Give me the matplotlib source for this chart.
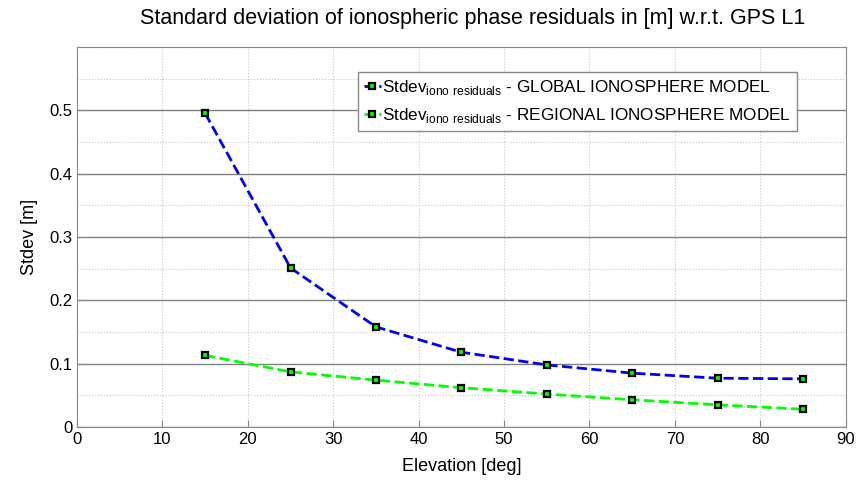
import matplotlib
matplotlib.use("Agg")
import matplotlib.pyplot as plt
from matplotlib.ticker import MultipleLocator

plt.rcParams['font.family'] = ['Liberation Sans', 'DejaVu Sans']
plt.rcParams['mathtext.fontset'] = 'custom'
plt.rcParams['mathtext.rm'] = 'Liberation Sans'

elevation = [15, 25, 35, 45, 55, 65, 75, 85]
global_std = [0.495, 0.251, 0.158, 0.118, 0.098, 0.085, 0.077, 0.076]
regional_std = [0.113, 0.087, 0.074, 0.062, 0.052, 0.043, 0.035, 0.028]
labels = [r'Stdev$_{\mathrm{iono\ residuals}}$ - GLOBAL IONOSPHERE MODEL',
          r'Stdev$_{\mathrm{iono\ residuals}}$ - REGIONAL IONOSPHERE MODEL']

fig = plt.figure(figsize=(8.56, 4.88), dpi=100)
ax = fig.add_axes([0.090, 0.125, 0.898, 0.779])

ax.plot(elevation, global_std, linestyle='--', color='#0000ff', lw=2,
        marker='s', ms=4.5, mfc='#00ff00', mec='black', mew=1.6, label=labels[0], zorder=3)
ax.plot(elevation, regional_std, linestyle='--', color='#00ff00', lw=2,
        marker='s', ms=4.5, mfc='#00ff00', mec='black', mew=1.6, label=labels[1], zorder=3)

ax.set_xlim(0, 90)
ax.set_ylim(0, 0.6)
ax.set_xticks(range(0, 91, 10))
ax.set_yticks([0, 0.1, 0.2, 0.3, 0.4, 0.5])
ax.set_yticklabels(['0', '0.1', '0.2', '0.3', '0.4', '0.5'])
ax.yaxis.set_minor_locator(MultipleLocator(0.05))
ax.tick_params(which='both', direction='in', labelsize=12, length=5, color='#888888')
ax.tick_params(which='minor', length=0)

ax.grid(True, which='major', axis='y', color='#808080', linestyle='-', lw=1, zorder=0)
ax.grid(True, which='minor', axis='y', color='#c8c8c8', linestyle=':', lw=0.8, zorder=0)
ax.grid(True, which='major', axis='x', color='#c8c8c8', linestyle=':', lw=0.8, zorder=0)
for s in ax.spines.values():
    s.set_color('#888888')

ax.set_xlabel('Elevation [deg]', fontsize=13, labelpad=8)
ax.set_ylabel('Stdev [m]', fontsize=13, labelpad=8)
fig.text(0.552, 0.963, 'Standard deviation of ionospheric phase residuals in [m] w.r.t. GPS L1',
         fontsize=15.5, ha='center', va='center')

leg = ax.legend(loc='upper left', bbox_to_anchor=(0.365, 0.935), fontsize=12.3,
                handlelength=1.0, handletextpad=0.1, borderpad=0.35, labelspacing=0.55,
                fancybox=False, framealpha=1, edgecolor='#888888', borderaxespad=0)
leg.get_frame().set_linewidth(1)

fig.savefig('out.png', dpi=100)
